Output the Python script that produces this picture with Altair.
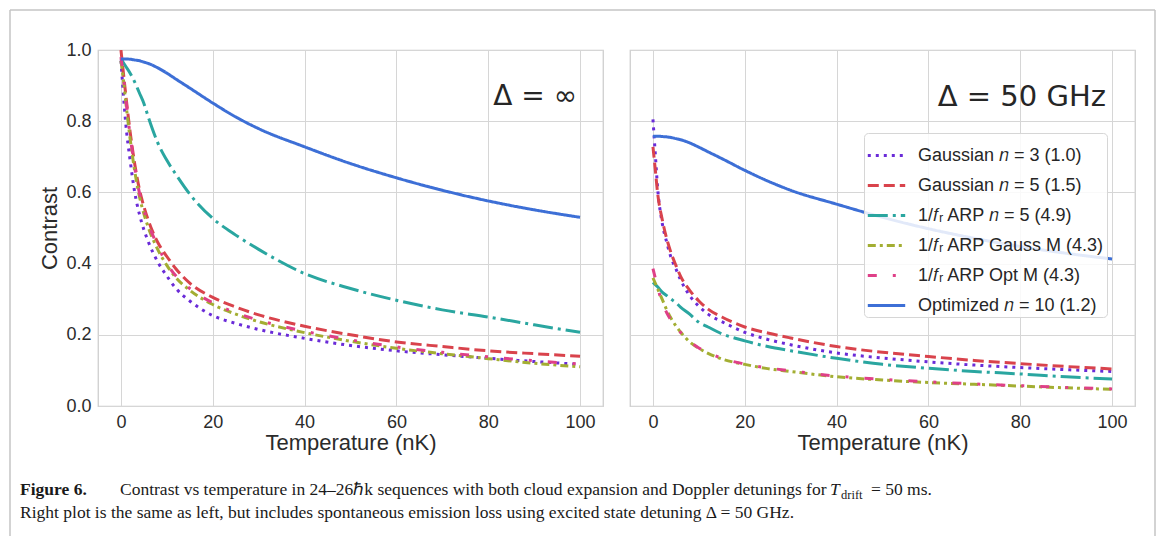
import altair as alt
import pandas as pd

# ---------------- data ----------------
SERIES = [
    "Gaussian 𝑛 = 3 (1.0)",
    "Gaussian 𝑛 = 5 (1.5)",
    "1/𝑓ᵣ ARP 𝑛 = 5 (4.9)",
    "1/𝑓ᵣ ARP Gauss M (4.3)",
    "1/𝑓ᵣ ARP Opt M (4.3)",
    "Optimized 𝑛 = 10 (1.2)",
]
COLORS = ["#6a2bd8", "#d9434c", "#2aa6a0", "#a3ae32", "#df4088", "#3d6fd6"]
DASHES = [[3, 5], [11, 5], [20, 5, 3, 5], [8, 4, 3, 4], [9, 16, 3, 16], [1, 0]]

T = [0, 0.5, 1, 2, 3, 4, 5, 6, 8, 10, 12, 15, 20, 25, 30, 40, 50, 60, 70, 80, 90, 100]

# Left panel (Delta = infinity)
left_gauss3 = [0.97, 0.88, 0.80, 0.69, 0.60, 0.54, 0.495, 0.46, 0.405, 0.365, 0.33, 0.295, 0.254, 0.232, 0.215, 0.19, 0.17, 0.155, 0.144, 0.134, 0.125, 0.117]
left_gauss5 = [1.0, 0.94, 0.88, 0.77, 0.68, 0.61, 0.56, 0.52, 0.46, 0.42, 0.385, 0.345, 0.305, 0.278, 0.256, 0.224, 0.20, 0.18, 0.167, 0.155, 0.147, 0.14]
left_arp5 = [0.975, 0.965, 0.955, 0.935, 0.91, 0.88, 0.85, 0.81, 0.74, 0.69, 0.65, 0.595, 0.527, 0.48, 0.44, 0.372, 0.33, 0.297, 0.27, 0.25, 0.228, 0.207]
left_gaussM = [0.97, 0.92, 0.86, 0.75, 0.66, 0.59, 0.54, 0.50, 0.44, 0.395, 0.36, 0.325, 0.285, 0.258, 0.237, 0.206, 0.182, 0.162, 0.147, 0.133, 0.12, 0.11]
left_optM = [0.98, 0.93, 0.87, 0.76, 0.67, 0.60, 0.55, 0.51, 0.45, 0.40, 0.365, 0.33, 0.29, 0.262, 0.241, 0.21, 0.186, 0.166, 0.151, 0.138, 0.127, 0.118]
left_opt10 = [0.975, 0.975, 0.975, 0.974, 0.972, 0.97, 0.966, 0.962, 0.95, 0.935, 0.918, 0.893, 0.851, 0.812, 0.779, 0.728, 0.681, 0.641, 0.606, 0.576, 0.551, 0.53]

# Right panel (Delta = 50 GHz)
right_gauss3 = [0.805, 0.71, 0.615, 0.515, 0.46, 0.415, 0.385, 0.355, 0.31, 0.28, 0.258, 0.237, 0.207, 0.187, 0.172, 0.149, 0.135, 0.124, 0.115, 0.108, 0.102, 0.097]
right_gauss5 = [0.728, 0.665, 0.60, 0.525, 0.47, 0.428, 0.395, 0.365, 0.325, 0.295, 0.272, 0.25, 0.222, 0.205, 0.191, 0.167, 0.151, 0.139, 0.128, 0.119, 0.111, 0.104]
right_arp5 = [0.347, 0.341, 0.335, 0.32, 0.31, 0.30, 0.29, 0.278, 0.258, 0.235, 0.222, 0.203, 0.183, 0.167, 0.155, 0.134, 0.117, 0.106, 0.097, 0.09, 0.082, 0.076]
right_gaussM = [0.36, 0.345, 0.33, 0.30, 0.27, 0.245, 0.225, 0.208, 0.18, 0.162, 0.148, 0.132, 0.117, 0.105, 0.097, 0.082, 0.073, 0.066, 0.061, 0.056, 0.051, 0.047]
right_optM = [0.386, 0.36, 0.335, 0.29, 0.262, 0.24, 0.222, 0.207, 0.182, 0.163, 0.15, 0.134, 0.118, 0.107, 0.099, 0.084, 0.075, 0.068, 0.062, 0.057, 0.052, 0.048]
right_opt10 = [0.758, 0.758, 0.758, 0.757, 0.756, 0.754, 0.751, 0.748, 0.739, 0.727, 0.714, 0.695, 0.662, 0.632, 0.606, 0.567, 0.53, 0.498, 0.471, 0.448, 0.429, 0.413]

X_TICKS = [0, 20, 40, 60, 80, 100]
Y_TICKS = [0.0, 0.2, 0.4, 0.6, 0.8, 1.0]

LEFT_TITLE = "Δ = ∞"
RIGHT_TITLE = "Δ = 50 GHz"
CAP_BOLD = "Figure 6."
CAP_L1 = "Contrast vs temperature in 24–26ℏk sequences with both cloud expansion and Doppler detunings for"
CAP_T = "T"
CAP_SUB = "drift"
CAP_END = "= 50 ms."
CAP_L2 = "Right plot is the same as left, but includes spontaneous emission loss using excited state detuning Δ = 50 GHz."


def frame(series_lists):
    rows = []
    for name, vals in zip(SERIES, series_lists):
        for t, v in zip(T, vals):
            rows.append({"series": name, "T": t, "C": v})
    return pd.DataFrame(rows)


df_left = frame([left_gauss3, left_gauss5, left_arp5, left_gaussM, left_optM, left_opt10])
df_right = frame([right_gauss3, right_gauss5, right_arp5, right_gaussM, right_optM, right_opt10])

W, H = 505, 356
FONT = "Liberation Sans"

legend = alt.Legend(
    orient="none", legendX=234, legendY=83, title=None,
    symbolType="stroke", symbolSize=1400, symbolStrokeWidth=3,
    labelFont=FONT, labelFontSize=18, labelColor="#262626", labelLimit=400,
    labelOffset=11, rowPadding=-2, padding=2,
    fillColor="rgba(255,255,255,0.85)", strokeColor="#d6d6d6", cornerRadius=4,
)


def lines(df, show_legend, show_y):
    xenc = alt.X("T:Q", scale=alt.Scale(domain=[-5, 105], nice=False),
                 axis=alt.Axis(values=X_TICKS, title="Temperature (nK)", labelPadding=7, titlePadding=1))
    if show_y:
        yaxis = alt.Axis(values=Y_TICKS, format=".1f", title="Contrast", labelPadding=7, titlePadding=4)
    else:
        yaxis = alt.Axis(values=Y_TICKS, labels=False, title=None)
    yenc = alt.Y("C:Q", scale=alt.Scale(domain=[0, 1], nice=False), axis=yaxis)
    col = alt.Color("series:N", sort=SERIES, scale=alt.Scale(domain=SERIES, range=COLORS),
                    legend=legend if show_legend else None)
    dash = alt.StrokeDash("series:N", sort=SERIES, scale=alt.Scale(domain=SERIES, range=DASHES),
                          legend=legend if show_legend else None)
    return alt.Chart(df).mark_line(strokeWidth=3, interpolate="monotone", clip=True).encode(
        x=xenc, y=yenc, color=col, strokeDash=dash, order=alt.Order("T:Q"))


def text_layer(txt, x, y, size, font, align="left", weight="normal", style="normal", color="#1a1a1a"):
    return alt.Chart(pd.DataFrame({"label": [txt]})).mark_text(
        align=align, baseline="middle", font=font, fontSize=size, fontWeight=weight,
        fontStyle=style, color=color).encode(x=alt.value(x), y=alt.value(y), text="label:N")


def rule(x, x2, y, y2):
    return alt.Chart(pd.DataFrame({"k": [0]})).mark_rule(color="#c4c4c4", strokeWidth=1.5).encode(
        x=alt.value(x), x2=alt.value(x2), y=alt.value(y), y2=alt.value(y2))


SERIF = "Liberation Serif"
CS = 17.5
left = alt.layer(
    rule(-88, 1057, -40, -40),
    rule(-88, -88, -40, 486),
    rule(1057, 1057, -40, 486),
    lines(df_left, False, True),
    text_layer(LEFT_TITLE, 479, 47, 28, "DejaVu Sans", align="right", color="#262626"),
    text_layer(CAP_BOLD, -78, 440, CS, SERIF, weight="bold"),
    text_layer(CAP_L1, 22, 440, CS, SERIF),
    text_layer(CAP_T, 732, 440, CS, SERIF, style="italic"),
    text_layer(CAP_SUB, 743, 445, 12.5, SERIF),
    text_layer(CAP_END, 773, 440, CS, SERIF),
    text_layer(CAP_L2, -78, 463, CS, SERIF),
).properties(width=W, height=H)

right = alt.layer(
    lines(df_right, True, False),
    text_layer(RIGHT_TITLE, 476, 47, 29, "DejaVu Sans", align="right", color="#262626"),
).properties(width=W, height=H).resolve_scale(color="independent", strokeDash="independent")

chart = alt.hconcat(left, right, spacing=27, bounds="flush").resolve_scale(
    color="independent", strokeDash="independent").resolve_legend(
    color="independent", strokeDash="independent").configure(
    padding=0, background="white"
).configure_view(stroke="#cccccc", strokeWidth=1.25).configure_axis(
    grid=True, gridColor="#d6d6d6", gridWidth=1, domain=False, ticks=False,
    labelFont=FONT, labelFontSize=18, labelColor="#2b2b2b",
    titleFont=FONT, titleFontSize=22, titleColor="#2b2b2b", titleFontWeight="normal",
)

chart.save("out.html", embed_options={"renderer": "svg", "actions": False})
